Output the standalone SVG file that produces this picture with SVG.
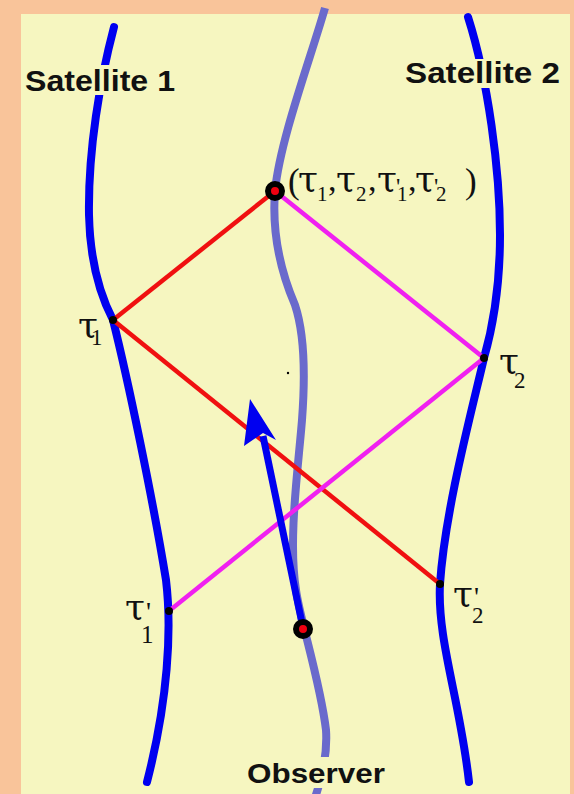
<svg xmlns="http://www.w3.org/2000/svg" width="574" height="794" viewBox="0 0 574 794">
<style>
.wl{fill:none;stroke:#0000F0;stroke-width:8;stroke-linecap:round}
.obs{fill:none;stroke:#6A6ACC;stroke-width:8;stroke-linecap:butt}
.red{stroke:#F01010;stroke-width:4.5;fill:none}
.mag{stroke:#F020F0;stroke-width:4.5;fill:none}
.lab{font-family:"Liberation Sans",Arial,sans-serif;font-weight:bold;fill:#111}
.gk{font-family:"Liberation Serif","Times New Roman",serif;fill:#111}
.t{font-family:"DejaVu Serif","Liberation Serif",serif;font-size:36px}
.bg{fill:#F6F6C0}
.pt{fill:#000}
.big{fill:#F00010;stroke:#000;stroke-width:6}
</style>
<rect x="0" y="0" width="574" height="794" fill="#F9C49A"/>
<rect x="21" y="14" width="549" height="780" fill="#F6F6C0"/>

<g id="satellite1">
<path class="wl" d="M114,27 C100,80 88,150 89,215 C90,260 100,295 113,320 C128,380 153,500 166,580 C172,630 168,700 147,782"/>
<rect class="bg" x="24" y="65" width="154" height="30"/>
<text class="lab" x="25" y="91" font-size="29" textLength="150" lengthAdjust="spacingAndGlyphs">Satellite 1</text>
</g>

<g id="satellite2">
<path class="wl" d="M468,17 C488,80 500,170 500,235 C500,290 492,330 484,358 C472,410 445,510 440,584 C437,640 460,700 469,782"/>
<rect class="bg" x="403" y="59" width="160" height="29"/>
<text class="lab" x="405" y="83" font-size="29" textLength="155" lengthAdjust="spacingAndGlyphs">Satellite 2</text>
</g>

<g id="observer">
<path class="obs" d="M325,8 C310,60 280,140 275,191 C272,230 280,270 295,305 C305,335 305,380 302,420 C298,470 288,540 296,590 C300,620 320,680 326,730 C328,760 318,790 314,800"/>
<rect class="bg" x="243" y="757" width="147" height="31"/>
<text class="lab" x="247" y="783" font-size="28" textLength="138" lengthAdjust="spacingAndGlyphs">Observer</text>
</g>

<g id="connectors">
<line class="red" x1="113" y1="320" x2="275" y2="191"/>
<line class="red" x1="113" y1="320" x2="440" y2="584"/>
<line class="mag" x1="275" y1="191" x2="484" y2="358"/>
<line class="mag" x1="169" y1="611" x2="484" y2="358"/>
<path d="M303,628 L263,436" stroke="#0000F0" stroke-width="7" fill="none"/>
<polygon points="250,399 276,440 263,433 244,446" fill="#0000F0"/>
</g>

<g id="event">
<circle class="big" cx="275" cy="191" r="7"/>
<text class="gk"><tspan x="288" y="193" font-size="35">(</tspan><tspan class="t" x="298" y="191">τ</tspan><tspan x="317" y="201" font-size="21">1</tspan><tspan x="328" y="191" font-size="34">,</tspan><tspan class="t" x="336" y="191">τ</tspan><tspan x="356" y="201" font-size="21">2</tspan><tspan x="368" y="191" font-size="34">,</tspan><tspan class="t" x="377" y="191">τ</tspan><tspan x="396" y="194" font-size="24">'</tspan><tspan x="397" y="201" font-size="21">1</tspan><tspan x="408" y="191" font-size="34">,</tspan><tspan class="t" x="415" y="191">τ</tspan><tspan x="434" y="194" font-size="24">'</tspan><tspan x="436" y="201" font-size="21">2</tspan><tspan x="465" y="193" font-size="35">)</tspan></text>
</g>

<g id="tau1">
<circle class="pt" cx="113" cy="320" r="4"/>
<text class="gk"><tspan class="t" x="78" y="337">τ</tspan><tspan x="91" y="345" font-size="23">1</tspan></text>
</g>

<g id="tau2">
<circle class="pt" cx="484" cy="358" r="4"/>
<text class="gk"><tspan class="t" x="499" y="373">τ</tspan><tspan x="514" y="388" font-size="23">2</tspan></text>
</g>

<g id="tau1p">
<circle class="pt" cx="169" cy="611" r="4"/>
<text class="gk"><tspan class="t" x="125" y="619">τ</tspan><tspan x="146" y="621" font-size="28">'</tspan><tspan x="141" y="643" font-size="25">1</tspan></text>
</g>

<g id="tau2p">
<circle class="pt" cx="440" cy="584" r="4"/>
<text class="gk"><tspan class="t" x="453" y="606">τ</tspan><tspan x="474" y="606" font-size="28">'</tspan><tspan x="472" y="623" font-size="23">2</tspan></text>
</g>

<g id="observer-point">
<circle class="big" cx="303" cy="629" r="7"/>
</g>

<circle cx="288" cy="373" r="1.2" fill="#000"/>
</svg>
